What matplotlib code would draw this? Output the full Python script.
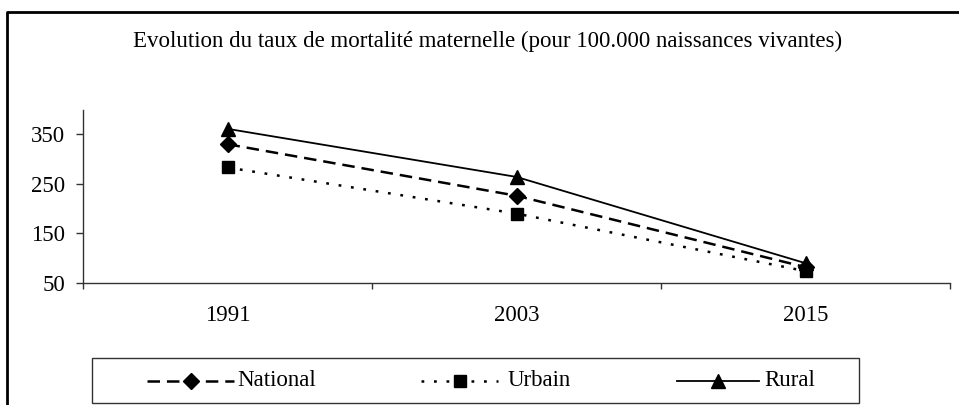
import matplotlib
matplotlib.use('Agg')
import matplotlib.pyplot as plt
from matplotlib.lines import Line2D
from matplotlib.patches import Rectangle

plt.rcParams['font.family'] = ['Liberation Serif', 'DejaVu Serif']
plt.rcParams['font.size'] = 16.5
plt.rcParams['lines.scale_dashes'] = False

# data
years = ['1991', '2003', '2015']
national = [330, 226, 82]
urbain = [283, 190, 74]
rural = [361, 264, 90]
series_names = ['National', 'Urbain', 'Rural']
title = 'Evolution du taux de mortalité maternelle (pour 100.000 naissances vivantes)'
y_ticks = [50, 150, 250, 350]

W, H = 959, 405
fig = plt.figure(figsize=(W / 100, H / 100), dpi=100)

# axes box in pixels: left 83, right 950, top 109.5, bottom 283
ax = fig.add_axes([83 / W, 1 - 283 / H, (950 - 83) / W, (283 - 109.5) / H])

styles = [
    dict(color='black', lw=1.8, dashes=(9, 5), marker='D', ms=8.5),
    dict(color='black', lw=1.8, dashes=(2, 7), marker='s', ms=8),
    dict(color='black', lw=1.3, linestyle='-', marker='^', ms=10),
]

x = list(range(len(years)))
for vals, st in zip([national, urbain, rural], styles):
    ax.plot(x, vals, **st)

ax.set_xlim(-0.5, len(years) - 0.5)
ax.set_ylim(50, 400)
ax.set_yticks(y_ticks)
ax.set_xticks(x)
ax.set_xticklabels(years)
ax.set_xticks([i - 0.5 for i in range(len(years) + 1)], minor=True)
ax.tick_params(axis='x', which='major', length=0, pad=16)
ax.tick_params(axis='x', which='minor', length=4.5, width=1, color='#333333', direction='out')
ax.tick_params(axis='y', length=5, width=1, color='#333333', pad=8)

for side in ['top', 'right']:
    ax.spines[side].set_visible(False)
for side in ['left', 'bottom']:
    ax.spines[side].set_color('#333333')
    ax.spines[side].set_linewidth(1)

fig.text(488 / W, 1 - 41 / H, title, ha='center', va='center')

# outer chart frame (top and left edges only are visible)
fig.add_artist(Line2D([7 / W, 7 / W, 1.0], [0.0, 1 - 12 / H, 1 - 12 / H],
                      transform=fig.transFigure, color='black', lw=2))

# legend drawn by hand to match the boxed, wide layout
fig.add_artist(Rectangle((92 / W, 1 - 403 / H), (859 - 92) / W, (403 - 358) / H,
                         transform=fig.transFigure, fill=False, ec='#333333', lw=1))
leg_pos = [(147, 234, 237), (421, 498, 508), (677, 759, 764)]
ly = 1 - 380.5 / H
for name, st, (x0, x1, xt) in zip(series_names, styles, leg_pos):
    fig.add_artist(Line2D([x0 / W, (x0 + x1) / 2 / W, x1 / W], [ly, ly, ly],
                          transform=fig.transFigure, markevery=[1], **st))
    fig.text(xt / W, ly, name, ha='left', va='center')

fig.savefig('out.png', dpi=100)
